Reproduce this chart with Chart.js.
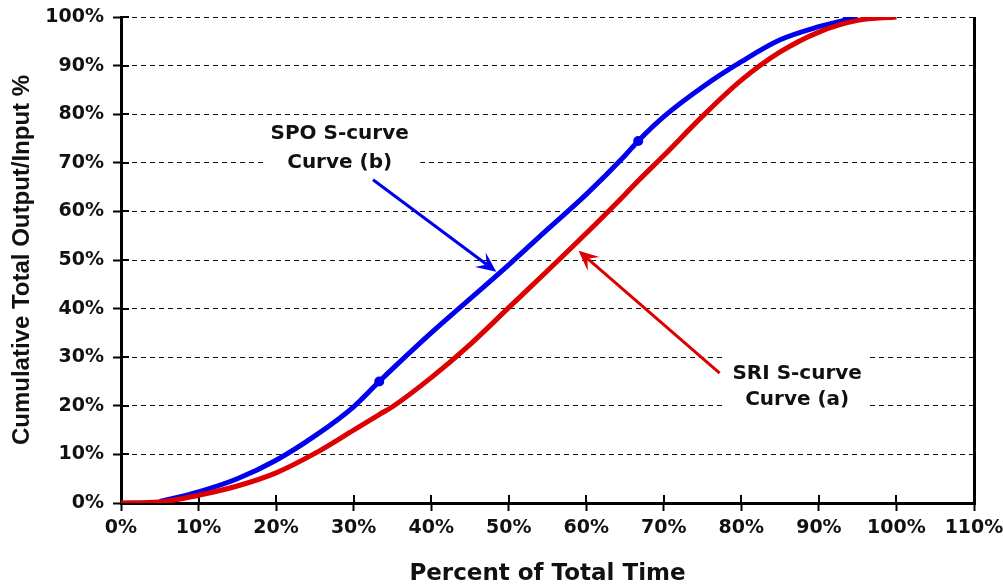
<!DOCTYPE html>
<html>
<head>
<meta charset="utf-8">
<script src="https://cdn.jsdelivr.net/npm/chart.js@4.4.0/dist/chart.umd.min.js"></script>
<style>
  html, body { margin: 0; padding: 0; background: #fff; }
  #wrap { width: 1003px; height: 588px; }
</style>
</head>
<body>
<div id="wrap"><canvas id="chart_1"></canvas></div>
<script>
// percent of total time (x) and cumulative output/input (y)
const timePct = [0, 5, 10, 15, 20, 25, 30, 33.3, 35, 40, 45, 50, 55, 60, 65, 66.7, 70, 75, 80, 85, 90, 95, 100];
const sriPct = [0, 0.2, 1.6, 3.5, 6.2, 10.2, 15, 18.2, 19.8, 25.8, 32.6, 40.2, 47.8, 55.5, 63.5, 66.3, 71.5, 79.6, 87, 92.8, 96.9, 99.3, 100];
const spoPct = [null, 0.3, 2.3, 5, 8.8, 13.8, 19.8, 25, 27.6, 35, 42, 49, 56.3, 63.5, 71.5, 74.5, 79.5, 85.6, 90.8, 95.3, 98, 100, null];
const spoMarkers = [33.3, 66.7];

const xMax = 110;
const yMax = 100;
const tickStep = 10;

const xTitle = "Percent of Total Time";
const yTitle = "Cumulative Total Output/Input %";

// callouts, placed in data units
const notes = [
  { lines: ["SPO S-curve", "Curve (b)"], x: 28.2, y: [75.9, 70.0], box: [18.6, 78.4, 38.6, 67.5] },
  { lines: ["SRI S-curve", "Curve (a)"], x: 87.2, y: [26.5, 21.2], box: [77.9, 31.1, 96.3, 18.1] }
];
const arrows = [
  { from: [32.5, 66.5], to: [48.4, 47.6], color: "#0000ee" },
  { from: [77.2, 26.7], to: [59.0, 51.9], color: "#dd0000" }
];

const toPoints = (ys) => timePct.map((t, i) => ({ x: t, y: ys[i] }));

const calloutPlugin = {
  id: "callouts",
  beforeDatasetsDraw(chart) {
    const { ctx, scales: { x, y } } = chart;
    ctx.save();
    // inner halves of the tick marks
    ctx.strokeStyle = "#000";
    ctx.lineWidth = 2;
    for (let v = 0; v <= yMax; v += tickStep) {
      const py = Math.round(y.getPixelForValue(v));
      ctx.beginPath();
      ctx.moveTo(x.left, py);
      ctx.lineTo(x.left + 8, py);
      ctx.stroke();
    }
    for (let v = 0; v <= xMax; v += tickStep) {
      const px = Math.round(x.getPixelForValue(v));
      ctx.beginPath();
      ctx.moveTo(px, y.bottom);
      ctx.lineTo(px, y.bottom - 8);
      ctx.stroke();
    }
    // label boxes
    ctx.font = "bold 20px 'DejaVu Sans'";
    ctx.textAlign = "center";
    ctx.textBaseline = "middle";
    notes.forEach((n) => {
      const x0 = x.getPixelForValue(n.box[0]);
      const y0 = y.getPixelForValue(n.box[1]);
      const x1 = x.getPixelForValue(n.box[2]);
      const y1 = y.getPixelForValue(n.box[3]);
      ctx.fillStyle = "#fff";
      ctx.fillRect(x0, y0, x1 - x0, y1 - y0);
      ctx.fillStyle = "#111";
      n.lines.forEach((s, i) => {
        ctx.fillText(s, x.getPixelForValue(n.x), y.getPixelForValue(n.y[i]));
      });
    });
    ctx.restore();
  },
  afterDatasetsDraw(chart) {
    const { ctx, scales: { x, y } } = chart;
    ctx.save();
    arrows.forEach((a) => {
      const fx = x.getPixelForValue(a.from[0]);
      const fy = y.getPixelForValue(a.from[1]);
      const tx = x.getPixelForValue(a.to[0]);
      const ty = y.getPixelForValue(a.to[1]);
      const ang = Math.atan2(ty - fy, tx - fx);
      const len = 20, half = 9, notch = 12;
      ctx.strokeStyle = a.color;
      ctx.fillStyle = a.color;
      ctx.lineWidth = 3;
      ctx.beginPath();
      ctx.moveTo(fx, fy);
      ctx.lineTo(tx - Math.cos(ang) * notch, ty - Math.sin(ang) * notch);
      ctx.stroke();
      ctx.beginPath();
      ctx.moveTo(tx, ty);
      ctx.lineTo(tx - Math.cos(ang) * len - Math.sin(ang) * half, ty - Math.sin(ang) * len + Math.cos(ang) * half);
      ctx.lineTo(tx - Math.cos(ang) * notch, ty - Math.sin(ang) * notch);
      ctx.lineTo(tx - Math.cos(ang) * len + Math.sin(ang) * half, ty - Math.sin(ang) * len - Math.cos(ang) * half);
      ctx.closePath();
      ctx.fill();
    });
    ctx.restore();
  }
};

const tickFont = { family: "'DejaVu Sans'", size: 19, weight: "bold" };

new Chart(document.getElementById("chart_1"), {
  type: "line",
  data: {
    datasets: [
      {
        label: "SRI S-curve",
        data: toPoints(sriPct),
        borderColor: "#dd0000",
        borderWidth: 5,
        pointRadius: 0,
        cubicInterpolationMode: "monotone",
        fill: false
      },
      {
        label: "SPO S-curve",
        data: toPoints(spoPct),
        borderColor: "#0000ee",
        backgroundColor: "#0000ee",
        borderWidth: 5,
        pointRadius: (c) => (spoMarkers.includes(timePct[c.dataIndex]) ? 5 : 0),
        pointBorderWidth: 0,
        cubicInterpolationMode: "monotone",
        fill: false
      }
    ]
  },
  options: {
    responsive: true,
    maintainAspectRatio: false,
    animation: false,
    layout: { padding: { top: 17, right: 29, left: 0, bottom: 0 } },
    plugins: {
      legend: { display: false },
      tooltip: { enabled: false }
    },
    scales: {
      x: {
        type: "linear",
        min: 0,
        max: xMax,
        afterFit: (s) => {
          s.height = 85;
          s.paddingLeft = 0;
          s.paddingRight = 0;
        },
        ticks: {
          stepSize: tickStep,
          color: "#111",
          font: tickFont,
          padding: 6,
          maxRotation: 0,
          callback: (v) => v + "%"
        },
        grid: {
          color: (c) => (c.tick && c.tick.value === xMax ? "#000" : "rgba(0,0,0,0)"),
          lineWidth: 3,
          tickColor: "#000",
          tickWidth: 2,
          tickLength: 8,
          tickBorderDash: []
        },
        border: { color: "#000", width: 3 },
        title: {
          display: true,
          text: xTitle,
          color: "#111",
          font: { family: "'DejaVu Sans'", size: 23, weight: "bold" },
          padding: { top: 16, bottom: 0 }
        }
      },
      y: {
        min: 0,
        max: yMax,
        afterFit: (s) => {
          s.width = 121;
          s.paddingTop = 0;
          s.paddingBottom = 0;
        },
        ticks: {
          stepSize: tickStep,
          color: "#111",
          font: tickFont,
          padding: 9,
          callback: (v) => v + "%"
        },
        grid: {
          color: (c) => (c.tick && c.tick.value === 0 ? "rgba(0,0,0,0)" : "#111"),
          lineWidth: 1,
          tickColor: "#000",
          tickWidth: 2,
          tickLength: 8,
          tickBorderDash: []
        },
        border: { color: "#000", width: 3, dash: [5, 4] },
        title: {
          display: true,
          text: yTitle,
          color: "#111",
          font: { family: "'Liberation Sans'", size: 24, weight: "bold" },
          padding: { top: 8, bottom: 0 }
        }
      }
    }
  },
  plugins: [calloutPlugin]
});
</script>
</body>
</html>
